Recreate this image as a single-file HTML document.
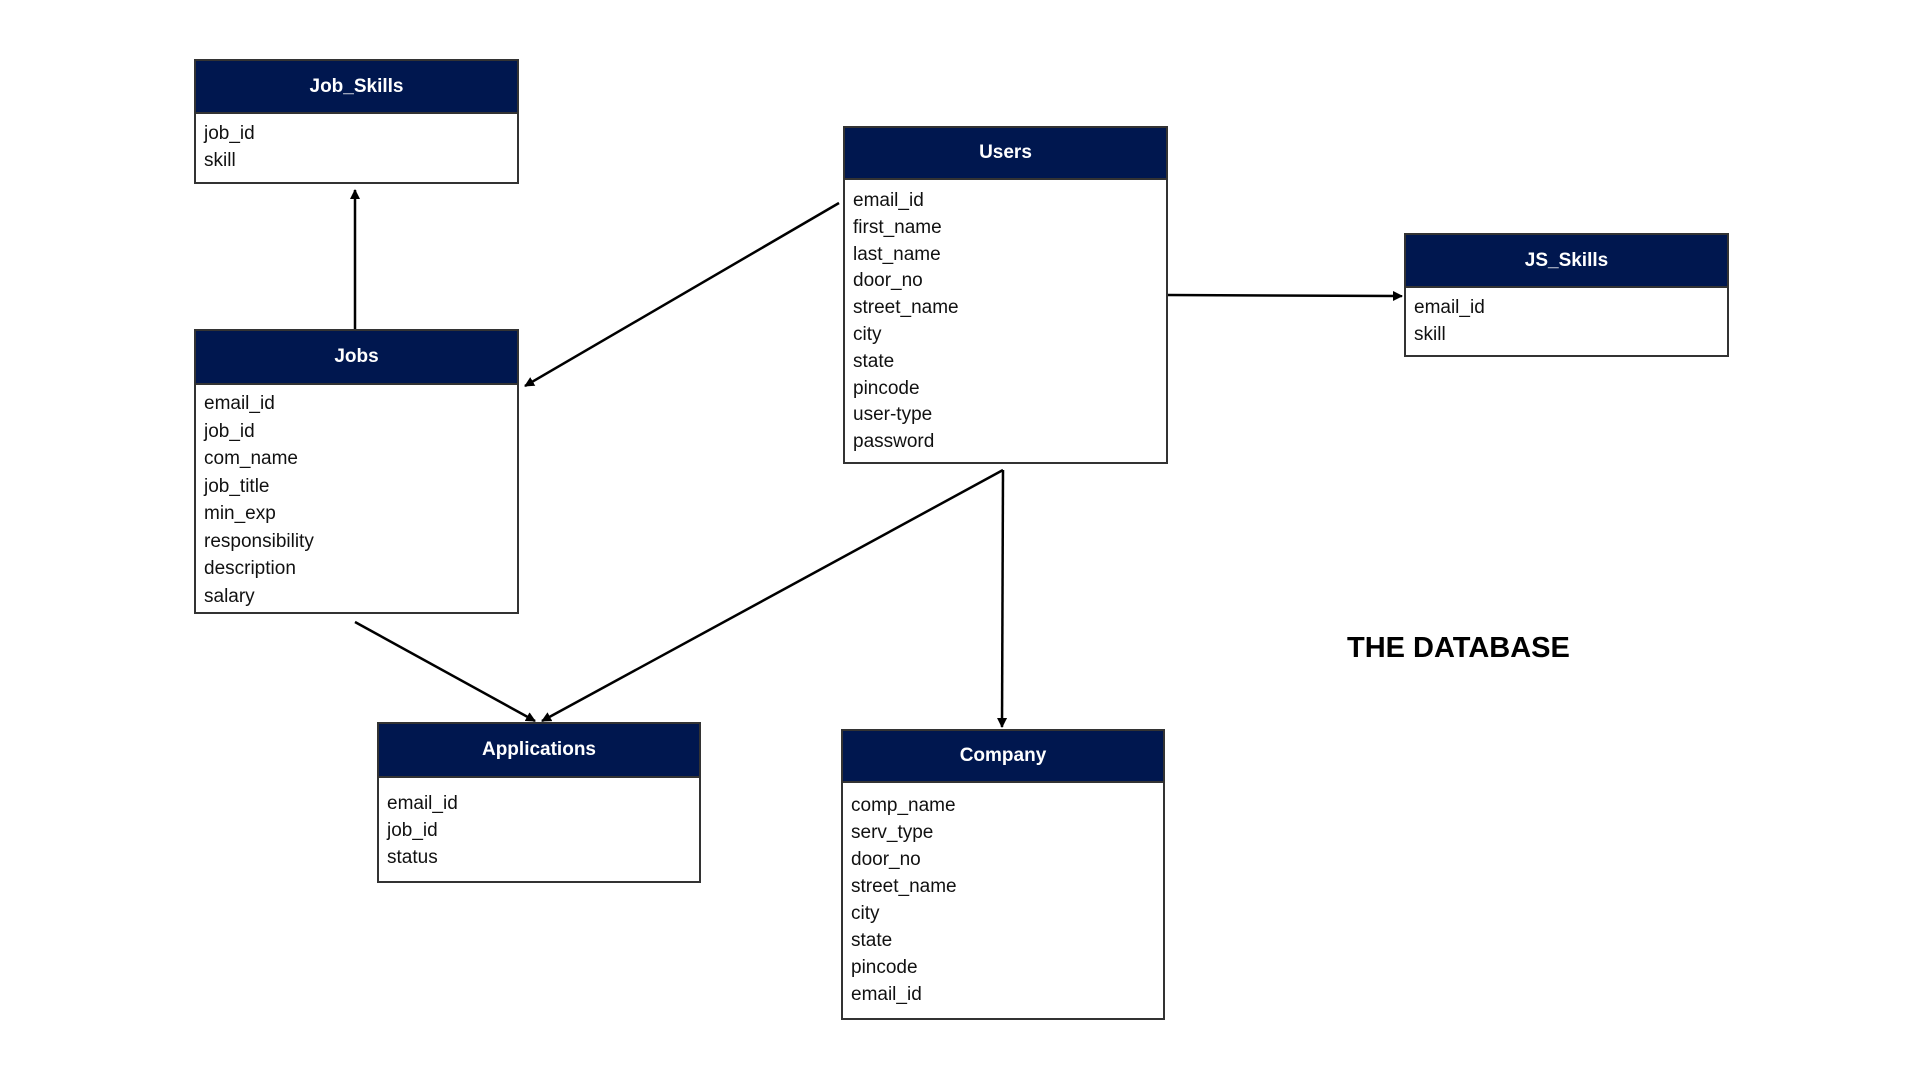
<!DOCTYPE html>
<html><head><meta charset="utf-8"><style>
body{margin:0;width:1920px;height:1080px;background:#fff;position:relative;overflow:hidden;font-family:"Liberation Sans",Arial,sans-serif}
.box{position:absolute;border:2px solid #333;background:#fff;box-sizing:border-box}
.h{background:#00174f;color:#fff;font-weight:bold;font-size:19px;text-align:center;border-bottom:2px solid #333;box-sizing:border-box}
.f{padding:8px 0 0 8px;font-size:19px;color:#111}
.f div{height:var(--lh);line-height:var(--lh)}
svg{position:absolute;left:0;top:0}
</style></head><body>
<svg width="1920" height="1080">
<defs><marker id="a" markerWidth="10" markerHeight="10" refX="9" refY="5" orient="auto" markerUnits="userSpaceOnUse"><path d="M0,0 L10,5 L0,10 z" fill="#000"/></marker></defs>
<g stroke="#000" stroke-width="2.5" fill="none" marker-end="url(#a)">
<line x1="355" y1="329" x2="355" y2="190"/>
<line x1="839" y1="203" x2="525" y2="386"/>
<line x1="1167" y1="295" x2="1402" y2="296"/>
<line x1="1003" y1="470" x2="1002" y2="727"/>
<line x1="1003" y1="470" x2="542" y2="721"/>
<line x1="355" y1="622" x2="535" y2="721"/>
</g>
</svg>
<div class="box" style="left:194px;top:59px;width:325px;height:125px"><div class="h" style="height:53px;line-height:51px">Job_Skills</div><div class="f" style="--lh:27px;padding-top:6px"><div>job_id</div><div>skill</div></div></div>
<div class="box" style="left:843px;top:126px;width:325px;height:338px"><div class="h" style="height:52px;line-height:50px">Users</div><div class="f" style="--lh:26.8px;padding-top:8px"><div>email_id</div><div>first_name</div><div>last_name</div><div>door_no</div><div>street_name</div><div>city</div><div>state</div><div>pincode</div><div>user-type</div><div>password</div></div></div>
<div class="box" style="left:1404px;top:233px;width:325px;height:124px"><div class="h" style="height:53px;line-height:51px">JS_Skills</div><div class="f" style="--lh:27px;padding-top:6px"><div>email_id</div><div>skill</div></div></div>
<div class="box" style="left:194px;top:329px;width:325px;height:285px"><div class="h" style="height:54px;line-height:52px">Jobs</div><div class="f" style="--lh:27.5px;padding-top:5px"><div>email_id</div><div>job_id</div><div>com_name</div><div>job_title</div><div>min_exp</div><div>responsibility</div><div>description</div><div>salary</div></div></div>
<div class="box" style="left:377px;top:722px;width:324px;height:161px"><div class="h" style="height:54px;line-height:52px">Applications</div><div class="f" style="--lh:27px;padding-top:12px"><div>email_id</div><div>job_id</div><div>status</div></div></div>
<div class="box" style="left:841px;top:729px;width:324px;height:291px"><div class="h" style="height:52px;line-height:50px">Company</div><div class="f" style="--lh:27px;padding-top:9px"><div>comp_name</div><div>serv_type</div><div>door_no</div><div>street_name</div><div>city</div><div>state</div><div>pincode</div><div>email_id</div></div></div>
<div style="position:absolute;left:1347px;top:632px;font-size:29px;font-weight:bold;color:#000">THE DATABASE</div>
</body></html>
